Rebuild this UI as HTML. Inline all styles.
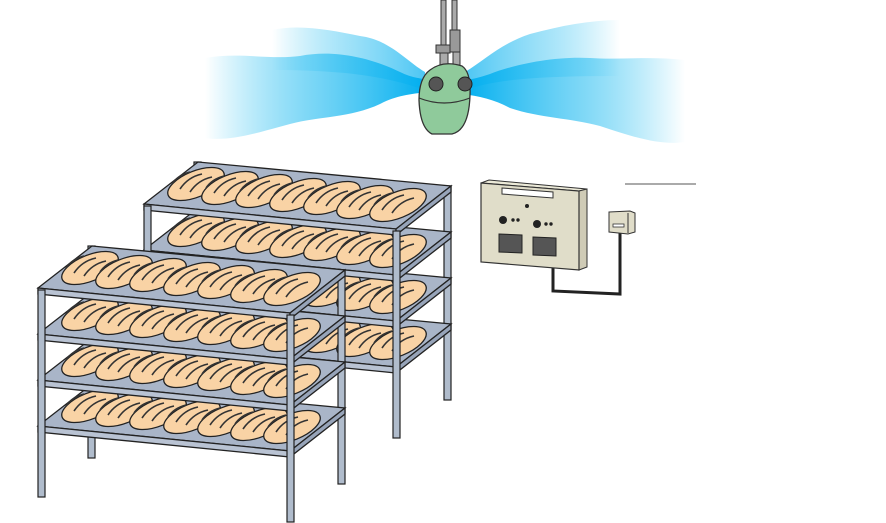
<!DOCTYPE html>
<html><head><meta charset="utf-8"><style>html,body{margin:0;padding:0;background:#fff;width:886px;height:523px;overflow:hidden}</style></head>
<body>
<svg width="886" height="523" viewBox="0 0 886 523" xmlns="http://www.w3.org/2000/svg">
<defs>
<linearGradient id="gl" x1="0" x2="1" y1="0" y2="0"><stop offset="0" stop-color="#00b4ee" stop-opacity="0"/><stop offset="0.5" stop-color="#3cc3f2" stop-opacity="0.7"/><stop offset="1" stop-color="#00aeef"/></linearGradient>
<linearGradient id="gr" x1="1" x2="0" y1="0" y2="0"><stop offset="0" stop-color="#00b4ee" stop-opacity="0"/><stop offset="0.5" stop-color="#3cc3f2" stop-opacity="0.7"/><stop offset="1" stop-color="#00aeef"/></linearGradient>
<g id="loaf">
<ellipse cx="0" cy="0" rx="30" ry="13" transform="rotate(-22)" fill="#f9d3a5" stroke="#222" stroke-width="1.3"/>
<path d="M-16 5 Q-8 -7 6 -10 M-6 8 Q2 -4 16 -7 M-24 0 Q-18 -9 -6 -12" fill="none" stroke="#333" stroke-width="1.6"/>
</g>
<g id="shelf">
<polygon points="38,288 92,246 345,270 290,313" fill="#a9b5c8" stroke="#222" stroke-width="1.3"/>
<use href="#loaf" x="90" y="268"/><use href="#loaf" x="124" y="272"/><use href="#loaf" x="158" y="275"/><use href="#loaf" x="192" y="279"/><use href="#loaf" x="226" y="282"/><use href="#loaf" x="259" y="286"/><use href="#loaf" x="292" y="289"/>
<polygon points="38,288 290,313 290,319 38,294" fill="#b9c3d3" stroke="#222" stroke-width="1.3"/>
<polygon points="290,313 345,270 345,276 290,319" fill="#97a4b9" stroke="#222" stroke-width="1.3"/>
</g>
<g id="rack">
<rect x="88" y="246" width="7" height="212" fill="#b0bccc" stroke="#222" stroke-width="1.2"/>
<rect x="338" y="270" width="7" height="214" fill="#b0bccc" stroke="#222" stroke-width="1.2"/>
<use href="#shelf" y="138"/><use href="#shelf" y="92"/><use href="#shelf" y="46"/><use href="#shelf"/>
<rect x="38" y="290" width="7" height="207" fill="#b0bccc" stroke="#222" stroke-width="1.2"/>
<rect x="287" y="315" width="7" height="207" fill="#b0bccc" stroke="#222" stroke-width="1.2"/>
</g>
</defs>
<!-- mist -->
<path d="M272 30 C300 24 330 30 360 36 C390 40 405 60 425 72 L425 90 C395 80 360 70 272 70Z" fill="url(#gl)" opacity="0.7"/>
<path d="M205 58 C240 52 270 60 300 56 C340 48 380 62 400 72 C412 78 420 78 428 80 L428 92 C410 94 395 96 380 104 C350 118 320 116 290 124 C260 132 230 142 205 138Z" fill="url(#gl)"/>
<path d="M620 20 C590 20 560 26 530 34 C500 44 485 60 465 72 L465 90 C495 80 530 76 620 76Z" fill="url(#gr)" opacity="0.7"/>
<path d="M685 60 C650 56 620 60 590 58 C550 56 510 66 490 74 C478 78 470 80 462 80 L462 94 C480 96 495 100 510 108 C540 118 570 118 600 126 C630 136 660 146 685 142Z" fill="url(#gr)"/>
<!-- humidifier -->
<rect x="441" y="0" width="5" height="48" fill="#aaa" stroke="#333" stroke-width="1"/>
<rect x="452" y="0" width="5" height="32" fill="#aaa" stroke="#333" stroke-width="1"/>
<rect x="450" y="30" width="10" height="22" fill="#999" stroke="#333" stroke-width="1"/>
<rect x="436" y="45" width="14" height="8" fill="#999" stroke="#333" stroke-width="1"/>
<rect x="440" y="53" width="8" height="12" fill="#aaa" stroke="#333" stroke-width="1"/>
<rect x="453" y="52" width="7" height="14" fill="#aaa" stroke="#333" stroke-width="1"/>
<path d="M430 70 Q443 60 462 66 Q471 72 470 95 Q469 130 452 134 L432 134 Q420 128 419 100 Q419 78 430 70Z" fill="#8fca9b" stroke="#333" stroke-width="1.3"/>
<path d="M419 98 Q444 108 470 98" fill="none" stroke="#333" stroke-width="1.2"/>
<circle cx="436" cy="84" r="7" fill="#555" stroke="#222"/><circle cx="465" cy="84" r="7" fill="#555" stroke="#222"/>
<!-- racks -->
<g transform="translate(106,-84)"><use href="#rack"/></g>
<use href="#rack"/>
<!-- control box -->
<line x1="625" y1="184" x2="696" y2="184" stroke="#555" stroke-width="1"/>
<polyline points="553,268 553,291 620,294 620,232" fill="none" stroke="#222" stroke-width="3"/>
<polygon points="481,183 489,180 587,189 579,191" fill="#ecead8" stroke="#333" stroke-width="1"/>
<polygon points="579,191 587,189 587,267 579,270" fill="#cfcbb6" stroke="#333" stroke-width="1"/>
<polygon points="481,183 579,191 579,270 481,262" fill="#e0ddc9" stroke="#333" stroke-width="1.2"/>
<polygon points="502,188 553,192 553,198 502,194" fill="#fff" stroke="#333"/>
<circle cx="527" cy="206" r="2" fill="#222"/>
<circle cx="503" cy="220" r="4" fill="#222"/><circle cx="513" cy="220" r="1.7" fill="#222"/><circle cx="518" cy="220" r="1.7" fill="#222"/>
<circle cx="537" cy="224" r="4" fill="#222"/><circle cx="546" cy="224" r="1.7" fill="#222"/><circle cx="551" cy="224" r="1.7" fill="#222"/>
<polygon points="499,234 522,235 522,253 499,252" fill="#555" stroke="#222"/>
<polygon points="533,237 556,238 556,256 533,255" fill="#555" stroke="#222"/>
<polygon points="609,212 630,211 635,213 635,232 628,234 609,232" fill="#e0ddc9" stroke="#333"/>
<line x1="628" y1="213" x2="628" y2="233" stroke="#333"/>
<rect x="613" y="224" width="11" height="3" fill="#fff" stroke="#333" stroke-width="0.8"/>
</svg>
</body></html>
